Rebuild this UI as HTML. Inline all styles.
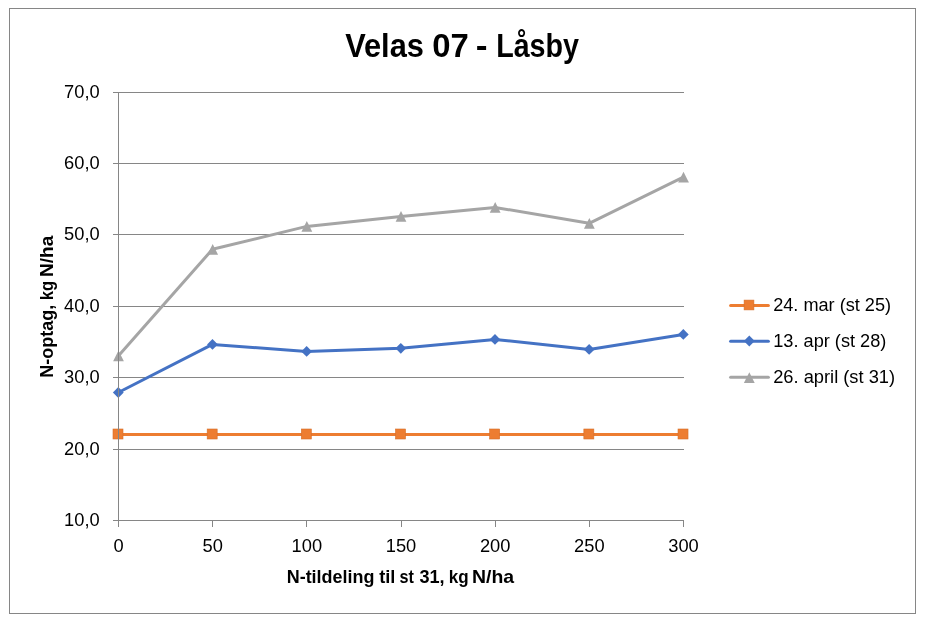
<!DOCTYPE html>
<html lang="da">
<head>
<meta charset="utf-8">
<title>Velas 07 - Låsby</title>
<style>
html,body{margin:0;padding:0;background:#fff;}
body{width:931px;height:626px;overflow:hidden;}
svg{display:block;}
text{font-family:"Liberation Sans",Arial,sans-serif;fill:#000;}
.b{font-weight:bold;}
</style>
</head>
<body>
<svg width="931" height="626" viewBox="0 0 931 626">
<rect x="0" y="0" width="931" height="626" fill="#ffffff"/>
<rect x="9.5" y="8.5" width="906" height="605" fill="#ffffff" stroke="#868686" stroke-width="1" shape-rendering="crispEdges"/>
<g stroke="#868686" stroke-width="1" shape-rendering="crispEdges">
<line x1="113" y1="92.5" x2="684" y2="92.5"/>
<line x1="113" y1="163.5" x2="684" y2="163.5"/>
<line x1="113" y1="234.5" x2="684" y2="234.5"/>
<line x1="113" y1="306.5" x2="684" y2="306.5"/>
<line x1="113" y1="377.5" x2="684" y2="377.5"/>
<line x1="113" y1="449.5" x2="684" y2="449.5"/>
<line x1="113" y1="520.5" x2="684" y2="520.5"/>
</g>
<polyline points="118.3,434.5 212.47,434.5 306.64,434.5 400.81,434.5 494.98,434.5 589.15,434.5 683.32,434.5" fill="none" stroke="#ED7D31" stroke-width="3" stroke-linejoin="round" stroke-linecap="round"/>
<rect x="113" y="429" width="10" height="10" fill="#ED7D31" stroke="#D56F2A" stroke-width="0.6"/>
<rect x="207.17" y="429" width="10" height="10" fill="#ED7D31" stroke="#D56F2A" stroke-width="0.6"/>
<rect x="301.34" y="429" width="10" height="10" fill="#ED7D31" stroke="#D56F2A" stroke-width="0.6"/>
<rect x="395.51" y="429" width="10" height="10" fill="#ED7D31" stroke="#D56F2A" stroke-width="0.6"/>
<rect x="489.68" y="429" width="10" height="10" fill="#ED7D31" stroke="#D56F2A" stroke-width="0.6"/>
<rect x="583.85" y="429" width="10" height="10" fill="#ED7D31" stroke="#D56F2A" stroke-width="0.6"/>
<rect x="678.02" y="429" width="10" height="10" fill="#ED7D31" stroke="#D56F2A" stroke-width="0.6"/>
<polyline points="118.3,392.5 212.47,344.4 306.64,351.45 400.81,348.3 494.98,339.45 589.15,349.45 683.32,334.4" fill="none" stroke="#4472C4" stroke-width="3" stroke-linejoin="round" stroke-linecap="round"/>
<path d="M118.3 387.1 l5.4 5.4 l-5.4 5.4 l-5.4 -5.4 z" fill="#4472C4"/>
<path d="M212.47 339 l5.4 5.4 l-5.4 5.4 l-5.4 -5.4 z" fill="#4472C4"/>
<path d="M306.64 346.05 l5.4 5.4 l-5.4 5.4 l-5.4 -5.4 z" fill="#4472C4"/>
<path d="M400.81 342.9 l5.4 5.4 l-5.4 5.4 l-5.4 -5.4 z" fill="#4472C4"/>
<path d="M494.98 334.05 l5.4 5.4 l-5.4 5.4 l-5.4 -5.4 z" fill="#4472C4"/>
<path d="M589.15 344.05 l5.4 5.4 l-5.4 5.4 l-5.4 -5.4 z" fill="#4472C4"/>
<path d="M683.32 329 l5.4 5.4 l-5.4 5.4 l-5.4 -5.4 z" fill="#4472C4"/>
<polyline points="118.3,355.9 212.47,249.3 306.64,226.4 400.81,216.45 494.98,207.4 589.15,223.3 683.32,177.2" fill="none" stroke="#A5A5A5" stroke-width="3" stroke-linejoin="round" stroke-linecap="round"/>
<path d="M118.5 350.5 l5.4 10.8 h-10.8 z" fill="#A5A5A5"/>
<path d="M212.67 243.9 l5.4 10.8 h-10.8 z" fill="#A5A5A5"/>
<path d="M306.84 221 l5.4 10.8 h-10.8 z" fill="#A5A5A5"/>
<path d="M401.01 211.05 l5.4 10.8 h-10.8 z" fill="#A5A5A5"/>
<path d="M495.18 202 l5.4 10.8 h-10.8 z" fill="#A5A5A5"/>
<path d="M589.35 217.9 l5.4 10.8 h-10.8 z" fill="#A5A5A5"/>
<path d="M683.52 171.8 l5.4 10.8 h-10.8 z" fill="#A5A5A5"/>
<g stroke="#868686" stroke-width="1" shape-rendering="crispEdges">
<line x1="118.5" y1="92" x2="118.5" y2="527"/>
<line x1="212.5" y1="520" x2="212.5" y2="527"/>
<line x1="306.5" y1="520" x2="306.5" y2="527"/>
<line x1="401.5" y1="520" x2="401.5" y2="527"/>
<line x1="495.5" y1="520" x2="495.5" y2="527"/>
<line x1="589.5" y1="520" x2="589.5" y2="527"/>
<line x1="683.5" y1="520" x2="683.5" y2="527"/>
<line x1="113" y1="520.5" x2="684" y2="520.5"/>
</g>
<text y="56.8" font-size="33.6" class="b"><tspan x="345.15" textLength="78.73" lengthAdjust="spacingAndGlyphs">Velas</tspan> <tspan x="432.15" textLength="36.54" lengthAdjust="spacingAndGlyphs">07</tspan> <tspan x="475.76" textLength="11.78" lengthAdjust="spacingAndGlyphs">-</tspan> <tspan x="496.14" textLength="82.87" lengthAdjust="spacingAndGlyphs">Låsby</tspan></text>
<text x="64.1" y="98" font-size="18.3">70,0</text>
<text x="64.1" y="169" font-size="18.3">60,0</text>
<text x="64.1" y="240" font-size="18.3">50,0</text>
<text x="64.1" y="312" font-size="18.3">40,0</text>
<text x="64.1" y="383" font-size="18.3">30,0</text>
<text x="64.1" y="455" font-size="18.3">20,0</text>
<text x="64.1" y="526" font-size="18.3">10,0</text>
<text x="118.5" y="552" font-size="18.3" text-anchor="middle">0</text>
<text x="212.67" y="552" font-size="18.3" text-anchor="middle">50</text>
<text x="306.84" y="552" font-size="18.3" text-anchor="middle">100</text>
<text x="401.01" y="552" font-size="18.3" text-anchor="middle">150</text>
<text x="495.18" y="552" font-size="18.3" text-anchor="middle">200</text>
<text x="589.35" y="552" font-size="18.3" text-anchor="middle">250</text>
<text x="683.52" y="552" font-size="18.3" text-anchor="middle">300</text>
<text y="582.9" font-size="18.5" class="b"><tspan x="286.73" textLength="87.69" lengthAdjust="spacingAndGlyphs">N-tildeling</tspan> <tspan x="379.22" textLength="16.24" lengthAdjust="spacingAndGlyphs">til</tspan> <tspan x="399.53" textLength="14.42" lengthAdjust="spacingAndGlyphs">st</tspan> <tspan x="419.44" textLength="25.14" lengthAdjust="spacingAndGlyphs">31,</tspan> <tspan x="448.79" textLength="19.85" lengthAdjust="spacingAndGlyphs">kg</tspan> <tspan x="472.04" textLength="42.11" lengthAdjust="spacingAndGlyphs">N/ha</tspan></text>
<text transform="translate(52.9 0) rotate(-90)" font-size="18.3" class="b"><tspan x="-377.87" textLength="73.04" lengthAdjust="spacingAndGlyphs">N-optag,</tspan> <tspan x="-300.17" textLength="19.28" lengthAdjust="spacingAndGlyphs">kg</tspan> <tspan x="-276.94" textLength="41.18" lengthAdjust="spacingAndGlyphs">N/ha</tspan></text>
<line x1="730.6" y1="305.4" x2="768.4" y2="305.4" stroke="#ED7D31" stroke-width="3" stroke-linecap="round"/>
<rect x="744.1" y="300.1" width="9.8" height="9.8" fill="#ED7D31" stroke="#D56F2A" stroke-width="0.6"/>
<text x="773.2" y="310.9" font-size="18.3" textLength="117.9" lengthAdjust="spacingAndGlyphs">24. mar (st 25)</text>
<line x1="730.6" y1="341.2" x2="768.4" y2="341.2" stroke="#4472C4" stroke-width="3" stroke-linecap="round"/>
<path d="M749.3 335.6 l5.4 5.4 l-5.4 5.4 l-5.4 -5.4 z" fill="#4472C4"/>
<text x="773.2" y="346.7" font-size="18.3" textLength="113.2" lengthAdjust="spacingAndGlyphs">13. apr (st 28)</text>
<line x1="730.6" y1="377.2" x2="768.4" y2="377.2" stroke="#A5A5A5" stroke-width="3" stroke-linecap="round"/>
<path d="M749.3 372.2 l5.4 10.8 h-10.8 z" fill="#A5A5A5"/>
<text x="773.2" y="382.7" font-size="18.3" textLength="121.9" lengthAdjust="spacingAndGlyphs">26. april (st 31)</text>
</svg>
</body>
</html>
